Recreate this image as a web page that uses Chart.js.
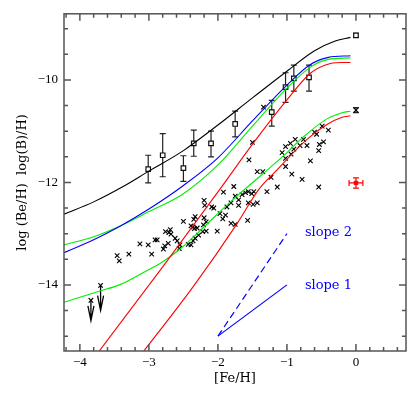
<!DOCTYPE html>
<html>
<head>
<meta charset="utf-8">
<script src="https://cdn.jsdelivr.net/npm/chart.js@4.4.0/dist/chart.umd.min.js"></script>
<style>
  html, body { margin: 0; padding: 0; background: #fff; }
</style>
</head>
<body>
<canvas id="myChart" width="415" height="415"></canvas>
<script>
'use strict';

// model curves, [Fe/H] vs log abundance
let blackFe = [-4.23, -3.8, -3.4, -3.0, -2.5, -2.0, -1.5, -1.0, -0.6, -0.3, -0.08];
let blackBe = [-12.62, -12.38, -12.10, -11.78, -11.38, -10.88, -10.35, -9.83, -9.43, -9.24, -9.17];

let blueFe = [-4.23, -3.8, -3.4, -3.0, -2.5, -2.0, -1.5, -1.0, -0.66, -0.4, -0.08];
let blueBe = [-13.37, -13.12, -12.84, -12.52, -12.06, -11.52, -10.80, -10.10, -9.70, -9.56, -9.53];

let greenTopFe = [-4.23, -3.8, -3.4, -3.0, -2.5, -2.0, -1.5, -1.0, -0.66, -0.4, -0.08];
let greenTopBe = [-13.22, -13.06, -12.84, -12.57, -12.22, -11.66, -10.90, -10.16, -9.75, -9.60, -9.57];

let redTopFe = [-3.85, -3.73, -2.80, -1.97, -1.48, -1.00, -0.66, -0.37, -0.20, -0.08];
let redTopBe = [-15.52, -15.31, -13.65, -12.13, -11.22, -10.39, -9.87, -9.68, -9.66, -9.66];

let greenLowFe = [-4.23, -3.71, -3.41, -3.08, -2.80, -2.54, -2.21, -1.82, -1.39, -1.00, -0.76, -0.42, -0.20, -0.08];
let greenLowBe = [-14.34, -14.12, -13.99, -13.76, -13.55, -13.29, -12.88, -12.38, -11.88, -11.42, -11.11, -10.76, -10.64, -10.61];

let redLowFe = [-3.20, -3.08, -2.35, -1.72, -1.41, -1.14, -0.71, -0.42, -0.20, -0.08];
let redLowBe = [-15.50, -15.30, -14.02, -12.80, -12.14, -11.75, -11.16, -10.87, -10.73, -10.70];

// stars (crosses)
let starFe = [-3.46, -3.43, -3.29, -3.13, -3.01, -2.96, -2.91, -2.88, -2.79, -2.77, -2.76, -2.72, -2.71, -2.69, -2.68,
  -2.62, -2.59, -2.55, -2.56, -2.50, -2.43, -2.39, -2.39, -2.36, -2.35, -2.34, -2.33, -2.30, -2.36, -2.33, -2.28,
  -2.22, -2.21, -2.20, -2.19, -2.20, -2.17, -2.17, -2.09, -2.06, -2.01, -1.97, -1.93, -1.92, -1.89, -1.87,
  -1.77, -1.81, -1.75, -1.70, -1.70, -1.65, -1.60, -1.56, -1.51, -1.48, -1.43, -1.56, -1.49, -1.81, -1.75, -1.57, -1.55,
  -1.34, -1.50, -1.02, -0.95, -1.07, -0.94, -0.90, -0.81, -0.88, -0.76, -0.71, -0.60, -0.57, -0.49, -0.40, -0.53,
  -0.47, -0.54, -0.66, -1.02, -1.02, -0.93, -0.78, -0.54, -1.14, -1.23, -1.43, -1.35, -1.29];
let starBe = [-13.43, -13.53, -13.40, -13.20, -13.22, -13.40, -13.12, -13.12, -13.30, -13.24, -12.96, -13.19, -12.98, -12.92, -13.01,
  -13.09, -13.14, -13.22, -13.29, -12.76, -13.21, -13.22, -12.85, -12.87, -12.72, -12.90, -12.67, -12.89, -13.14, -13.09, -13.03,
  -12.96, -12.83, -12.69, -12.45, -12.35, -12.77, -12.95, -12.48, -12.50, -12.95, -12.61, -12.71, -12.19, -12.64, -12.48,
  -12.08, -12.40, -12.27, -12.34, -12.45, -12.24, -12.20, -12.18, -12.22, -12.18, -12.40, -12.40, -12.43, -12.80, -12.82, -12.74, -11.56,
  -10.53, -11.22, -11.30, -11.24, -11.42, -11.45, -11.35, -11.28, -11.16, -11.16, -11.28, -11.02, -11.06, -10.90, -10.98, -11.26,
  -11.21, -11.38, -11.58, -11.53, -11.69, -11.84, -11.94, -12.09, -12.09, -11.90, -11.79, -11.79, -12.18];

// boron points (squares) with error bars
let boronFe = [-3.01, -2.80, -2.50, -2.35, -2.10, -1.75, -1.22, -1.02, -0.90, -0.68, 0.0];
let boronB = [-11.74, -11.47, -11.72, -11.24, -11.24, -10.86, -10.63, -10.14, -9.97, -9.95, -9.13];
let boronLo = [-12.01, -11.89, -11.98, -11.49, -11.50, -11.11, -10.90, -10.44, -10.22, -10.22, -9.17];
let boronHi = [-11.47, -11.05, -11.48, -10.98, -11.00, -10.61, -10.40, -9.86, -9.71, -9.71, -9.09];

// solar Be
let sunFe = [0.0];
let sunBe = [-10.59];
let sunLo = [-10.64];
let sunHi = [-10.54];

// red point with errors in both directions
let redPtFe = [0.0];
let redPtBe = [-12.01];
let redPtErrFe = [0.1];
let redPtErrBe = [0.1];

// upper limits
let limFe = [-3.84, -3.70];
let limBe = [-14.30, -14.01];
let limTip = [-14.70, -14.50];

// slope guides
let slopeFe = [-2, -1];
let slope1Be = [-15, -14];
let slope2Be = [-15, -13];
let slopeText = ['slope 2', 'slope 1'];
let slopeTextFe = [-0.74, -0.74];
let slopeTextBe = [-12.98, -14.01];

let xTicks = [-4, -3, -2, -1, 0];
let yTicks = [-14, -12, -10];

function pts(xs, ys) {
  let out = [];
  for (let i = 0; i < xs.length; i++) out.push({ x: xs[i], y: ys[i] });
  return out;
}

function curve(xs, ys, color) {
  return {
    data: pts(xs, ys),
    showLine: true,
    borderColor: color,
    borderWidth: 1.1,
    pointRadius: 0,
    cubicInterpolationMode: 'monotone',
    fill: false
  };
}

let extras = {
  id: 'extras',
  beforeDatasetsDraw(chart) {
    let ctx = chart.ctx;
    let xs = chart.scales.x, ys = chart.scales.y;
    ctx.save();
    ctx.strokeStyle = '#222';
    ctx.lineWidth = 1.2;
    let bx = boronFe.concat(sunFe), blo = boronLo.concat(sunLo), bhi = boronHi.concat(sunHi);
    for (let i = 0; i < bx.length; i++) {
      let px = xs.getPixelForValue(bx[i]);
      let lo = ys.getPixelForValue(blo[i]);
      let hi = ys.getPixelForValue(bhi[i]);
      ctx.beginPath();
      ctx.moveTo(px, lo); ctx.lineTo(px, hi);
      ctx.moveTo(px - 3, lo); ctx.lineTo(px + 3, lo);
      ctx.moveTo(px - 3, hi); ctx.lineTo(px + 3, hi);
      ctx.stroke();
    }
    // red point error cross
    ctx.strokeStyle = '#ff0000';
    for (let i = 0; i < redPtFe.length; i++) {
      let px = xs.getPixelForValue(redPtFe[i]);
      let py = ys.getPixelForValue(redPtBe[i]);
      let x0 = xs.getPixelForValue(redPtFe[i] - redPtErrFe[i]);
      let x1 = xs.getPixelForValue(redPtFe[i] + redPtErrFe[i]);
      let y0 = ys.getPixelForValue(redPtBe[i] - redPtErrBe[i]);
      let y1 = ys.getPixelForValue(redPtBe[i] + redPtErrBe[i]);
      ctx.beginPath();
      ctx.moveTo(x0, py); ctx.lineTo(x1, py);
      ctx.moveTo(x0, py - 3); ctx.lineTo(x0, py + 3);
      ctx.moveTo(x1, py - 3); ctx.lineTo(x1, py + 3);
      ctx.moveTo(px, y0); ctx.lineTo(px, y1);
      ctx.moveTo(px - 3, y0); ctx.lineTo(px + 3, y0);
      ctx.moveTo(px - 3, y1); ctx.lineTo(px + 3, y1);
      ctx.stroke();
    }
    // upper limit arrows
    ctx.strokeStyle = '#000';
    ctx.lineWidth = 1.3;
    for (let i = 0; i < limFe.length; i++) {
      let px = xs.getPixelForValue(limFe[i]);
      let top = ys.getPixelForValue(limBe[i]);
      let tip = ys.getPixelForValue(limTip[i]);
      ctx.beginPath();
      ctx.moveTo(px, top); ctx.lineTo(px, tip);
      ctx.moveTo(px - 3, tip - 15); ctx.lineTo(px, tip); ctx.lineTo(px + 3, tip - 15);
      ctx.stroke();
    }
    ctx.restore();
  },
  afterDraw(chart) {
    let ctx = chart.ctx;
    let xs = chart.scales.x, ys = chart.scales.y;
    let a = chart.chartArea;
    ctx.save();
    // slope labels
    ctx.fillStyle = '#0000ff';
    ctx.font = '13px "DejaVu Serif"';
    ctx.textBaseline = 'middle';
    for (let i = 0; i < slopeText.length; i++) {
      ctx.fillText(slopeText[i], xs.getPixelForValue(slopeTextFe[i]), ys.getPixelForValue(slopeTextBe[i]));
    }
    // box and inward ticks on all four sides
    ctx.strokeStyle = '#555';
    ctx.lineWidth = 1.5;
    ctx.strokeRect(a.left, a.top, a.right - a.left, a.bottom - a.top);
    ctx.beginPath();
    for (let v = -4.2; v <= 0.7; v += 0.2) {
      let r = Math.round(v * 10) / 10;
      let len = Math.abs(r - Math.round(r)) < 0.01 ? 7 : 4;
      let px = xs.getPixelForValue(r);
      ctx.moveTo(px, a.bottom); ctx.lineTo(px, a.bottom - len);
      ctx.moveTo(px, a.top); ctx.lineTo(px, a.top + len);
    }
    for (let v = -15; v <= -9; v += 0.5) {
      let len = v % 2 === 0 ? 7 : 4;
      let py = ys.getPixelForValue(v);
      ctx.moveTo(a.left, py); ctx.lineTo(a.left + len, py);
      ctx.moveTo(a.right, py); ctx.lineTo(a.right - len, py);
    }
    ctx.stroke();
    ctx.restore();
  }
};

function minus(v) {
  return String(v).replace('-', '\u2212');
}

let ctx = document.getElementById('myChart').getContext('2d');
let myChart = new Chart(ctx, {
  type: 'scatter',
  data: {
    datasets: [
      curve(blackFe, blackBe, '#000000'),
      curve(blueFe, blueBe, '#0000ff'),
      curve(greenTopFe, greenTopBe, '#00ee00'),
      curve(redTopFe, redTopBe, '#ff0000'),
      curve(greenLowFe, greenLowBe, '#00ee00'),
      curve(redLowFe, redLowBe, '#ff0000'),
      {
        data: pts(slopeFe, slope1Be),
        showLine: true, borderColor: '#0000ff', borderWidth: 1.2, pointRadius: 0
      },
      {
        data: pts(slopeFe, slope2Be),
        showLine: true, borderColor: '#0000ff', borderWidth: 1.2, pointRadius: 0,
        borderDash: [7, 4]
      },
      {
        data: pts(starFe, starBe),
        pointStyle: 'crossRot', pointRadius: 3.2, borderColor: '#000', borderWidth: 1.1
      },
      {
        data: pts(sunFe, sunBe).concat(pts(limFe, limBe)),
        pointStyle: 'crossRot', pointRadius: 3.2, borderColor: '#000', borderWidth: 1.1
      },
      {
        data: pts(boronFe, boronB),
        pointStyle: 'rect', pointRadius: 3.2, borderColor: '#111', borderWidth: 1.2,
        backgroundColor: '#ffffff'
      },
      {
        data: pts(redPtFe, redPtBe),
        pointStyle: 'rect', pointRadius: 2.5, borderColor: '#ff0000', borderWidth: 1,
        backgroundColor: '#ff0000'
      }
    ]
  },
  options: {
    responsive: false,
    animation: false,
    layout: { padding: { top: 10, right: 9, left: 0, bottom: 0 } },
    plugins: { legend: { display: false }, tooltip: { enabled: false } },
    scales: {
      x: {
        type: 'linear',
        min: -4.23,
        max: 0.725,
        afterFit(scale) { scale.height = 64; },
        afterBuildTicks(scale) { scale.ticks = xTicks.map(v => ({ value: v })); },
        grid: { display: false, drawTicks: false },
        border: { display: false },
        ticks: {
          autoSkip: false, maxRotation: 0, padding: 4, color: '#000',
          font: { family: 'Liberation Serif', size: 13 },
          callback: v => minus(v)
        },
        title: {
          display: true, text: '[Fe/H]', color: '#000',
          font: { family: 'DejaVu Serif', size: 13 },
          padding: { top: 0, bottom: 29 }
        }
      },
      y: {
        type: 'linear',
        min: -15.29,
        max: -8.71,
        afterFit(scale) { scale.width = 64; },
        afterBuildTicks(scale) { scale.ticks = yTicks.map(v => ({ value: v })); },
        grid: { display: false, drawTicks: false },
        border: { display: false },
        ticks: {
          autoSkip: false, padding: 6, color: '#000',
          font: { family: 'Liberation Serif', size: 13 },
          callback: v => minus(v)
        },
        title: {
          display: true, text: 'log (Be/H)  log(B)/H)', color: '#000',
          font: { family: 'DejaVu Serif', size: 13 },
          padding: { top: 15, bottom: 0 }
        }
      }
    }
  },
  plugins: [extras]
});
</script>
</body>
</html>
